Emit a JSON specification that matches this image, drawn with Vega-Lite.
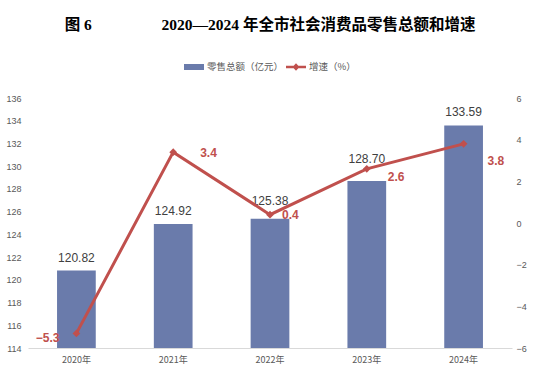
{
  "$schema": "https://vega.github.io/schema/vega-lite/v6.json",
  "width": 484,
  "height": 250,
  "padding": {"left": 5, "top": 17, "right": 8, "bottom": 6},
  "background": "white",
  "title": {
    "text": "图 6\u00a0\u00a0\u00a0\u00a0\u00a0\u00a0\u00a0\u00a0\u00a0\u00a0\u00a0\u00a0\u00a0\u00a0\u00a0\u00a0\u00a0\u00a02020—2024 年全市社会消费品零售总额和增速",
    "font": "Liberation Serif, Noto Sans CJK SC",
    "fontSize": 15.5,
    "fontWeight": "bold",
    "color": "#000000",
    "anchor": "middle",
    "offset": 24
  },
  "data": {
    "values": [
      {"year": "2020年", "total": 120.82, "growth": -5.3},
      {"year": "2021年", "total": 124.92, "growth": 3.4},
      {"year": "2022年", "total": 125.38, "growth": 0.4},
      {"year": "2023年", "total": 128.70, "growth": 2.6},
      {"year": "2024年", "total": 133.59, "growth": 3.8}
    ]
  },
  "encoding": {
    "x": {
      "field": "year",
      "type": "ordinal",
      "sort": null,
      "scale": {"paddingInner": 0.6, "paddingOuter": 0.3},
      "axis": {
        "title": null,
        "labelAngle": 0,
        "ticks": false,
        "domainColor": "#d9d9d9",
        "labelPadding": 7,
        "labelFontSize": 9,
        "labelColor": "#595959",
        "labelFont": "Noto Sans CJK SC"
      }
    }
  },
  "layer": [
    {
      "encoding": {
        "y": {
          "field": "total",
          "type": "quantitative",
          "scale": {"domain": [114, 136], "zero": false, "nice": false},
          "axis": {
            "title": null,
            "values": [114, 116, 118, 120, 122, 124, 126, 128, 130, 132, 134, 136],
            "grid": false,
            "ticks": false,
            "domain": false,
            "labelOverlap": false,
            "labelPadding": 7,
            "labelFontSize": 9,
            "labelColor": "#595959",
            "labelFont": "Liberation Sans"
          }
        }
      },
      "layer": [
        {
          "mark": {"type": "bar"},
          "encoding": {
            "y2": {"datum": 114},
            "color": {
              "datum": "零售总额（亿元）",
              "scale": {"domain": ["零售总额（亿元）", "增速（%）"], "range": ["#6a7bab", "#c0504d"]},
              "legend": {
                "title": null,
                "orient": "top",
                "direction": "horizontal",
                "gridAlign": "none",
                "symbolSize": 400,
                "symbolStrokeWidth": 0,
                "labelFontSize": 9.5,
                "labelOffset": 3,
                "columnPadding": 2,
                "labelColor": "#595959",
                "labelFont": "Noto Sans CJK SC",
                "offset": 26,
                "padding": 0,
                "encode": {
                  "symbols": {
                    "update": {
                      "shape": {"signal": "datum.value === '零售总额（亿元）' ? 'M-1,-0.3H1V0.3H-1Z' : 'M-1,-0.12H1V0.12H-1Z M0,-0.38L0.35,0L0,0.38L-0.35,0Z'"},
                      "fill": {"signal": "datum.value === '零售总额（亿元）' ? '#6a7bab' : '#c0504d'"},
                      "stroke": {"value": "transparent"},
                      "strokeWidth": {"value": 0},
                      "opacity": {"value": 1}
                    }
                  }
                }
              }
            }
          }
        },
        {
          "transform": [{"filter": {"field": "year", "oneOf": ["2020年", "2021年", "2024年"]}}],
          "mark": {"type": "text", "baseline": "middle", "dy": -13, "fontSize": 12, "font": "Liberation Sans", "color": "#404040"},
          "encoding": {
            "text": {"field": "total", "type": "quantitative", "format": ".2f"}
          }
        },
        {
          "transform": [{"filter": {"field": "year", "equal": "2022年"}}],
          "mark": {"type": "text", "baseline": "middle", "dy": -18, "fontSize": 12, "font": "Liberation Sans", "color": "#404040"},
          "encoding": {
            "text": {"field": "total", "type": "quantitative", "format": ".2f"}
          }
        },
        {
          "transform": [{"filter": {"field": "year", "equal": "2023年"}}],
          "mark": {"type": "text", "baseline": "middle", "dy": -22, "fontSize": 12, "font": "Liberation Sans", "color": "#404040"},
          "encoding": {
            "text": {"field": "total", "type": "quantitative", "format": ".2f"}
          }
        }
      ]
    },
    {
      "encoding": {
        "y": {
          "field": "growth",
          "type": "quantitative",
          "scale": {"domain": [-6, 6], "nice": false},
          "axis": {
            "title": null,
            "orient": "right",
            "values": [-6, -4, -2, 0, 2, 4, 6],
            "grid": false,
            "ticks": false,
            "domain": false,
            "labelOverlap": false,
            "labelPadding": 4,
            "labelFontSize": 9,
            "labelColor": "#595959",
            "labelFont": "Liberation Sans"
          }
        }
      },
      "layer": [
        {
          "mark": {"type": "line", "strokeWidth": 3, "point": {"shape": "diamond", "size": 60, "filled": true}},
          "encoding": {
            "color": {"datum": "增速（%）"}
          }
        },
        {
          "transform": [{"filter": {"field": "year", "equal": "2020年"}}],
          "mark": {"type": "text", "align": "right", "baseline": "middle", "dx": -17, "dy": 5, "fontSize": 12, "fontWeight": "bold", "font": "Liberation Sans", "color": "#c0504d"},
          "encoding": {
            "text": {"field": "growth", "type": "quantitative", "format": ".1f"}
          }
        },
        {
          "transform": [{"filter": {"field": "year", "equal": "2021年"}}],
          "mark": {"type": "text", "align": "left", "baseline": "middle", "dx": 27, "dy": 1, "fontSize": 12, "fontWeight": "bold", "font": "Liberation Sans", "color": "#c0504d"},
          "encoding": {
            "text": {"field": "growth", "type": "quantitative", "format": ".1f"}
          }
        },
        {
          "transform": [{"filter": {"field": "year", "equal": "2022年"}}],
          "mark": {"type": "text", "align": "left", "baseline": "middle", "dx": 12, "dy": 0, "fontSize": 12, "fontWeight": "bold", "font": "Liberation Sans", "color": "#c0504d"},
          "encoding": {
            "text": {"field": "growth", "type": "quantitative", "format": ".1f"}
          }
        },
        {
          "transform": [{"filter": {"field": "year", "equal": "2023年"}}],
          "mark": {"type": "text", "align": "left", "baseline": "middle", "dx": 21, "dy": 8, "fontSize": 12, "fontWeight": "bold", "font": "Liberation Sans", "color": "#c0504d"},
          "encoding": {
            "text": {"field": "growth", "type": "quantitative", "format": ".1f"}
          }
        },
        {
          "transform": [{"filter": {"field": "year", "equal": "2024年"}}],
          "mark": {"type": "text", "align": "left", "baseline": "middle", "dx": 24, "dy": 17, "fontSize": 12, "fontWeight": "bold", "font": "Liberation Sans", "color": "#c0504d"},
          "encoding": {
            "text": {"field": "growth", "type": "quantitative", "format": ".1f"}
          }
        }
      ]
    }
  ],
  "resolve": {"scale": {"y": "independent"}},
  "config": {
    "view": {"stroke": null},
    "legend": {"layout": {"top": {"anchor": "middle"}}}
  }
}
